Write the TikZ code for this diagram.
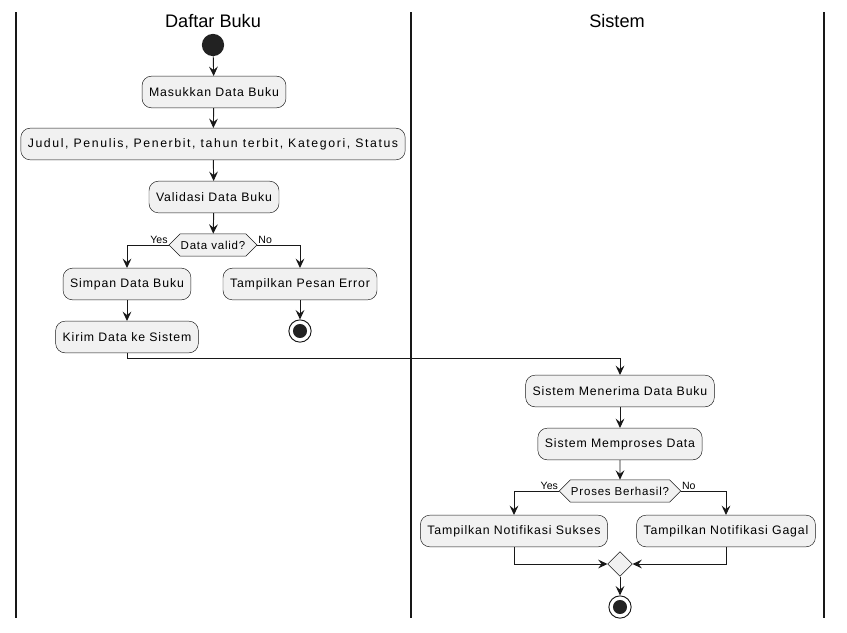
\documentclass[tikz,border=0pt]{standalone}
\usepackage{fontspec}
\setmainfont{Liberation Sans}
\newfontfamily\boxfont[LetterSpace=7]{Liberation Sans}
\newfontfamily\widefont[LetterSpace=13]{Liberation Sans}
\usepackage{xcolor}
\usetikzlibrary{
    arrows.meta,
    shapes.geometric,
    shapes.symbols
}
\definecolor{line}{HTML}{181818}
\definecolor{actfill}{HTML}{F1F1F1}
\definecolor{dotfill}{HTML}{222222}

\begin{document}
\begin{tikzpicture}[x=0.03cm, y=-0.03cm,
    act/.style={draw=line, fill=actfill, rounded corners=8pt, line width=0.4pt,
        minimum height=27pt, inner xsep=6pt, font=\boxfont\fontsize{10.5}{12}\selectfont},
    choice/.style={draw=line, fill=actfill, line width=0.4pt, signal, signal to=west and east,
        minimum height=19pt, inner xsep=0.5pt, inner ysep=0pt, font=\boxfont\fontsize{9.8}{12}\selectfont},
    merge/.style={draw=line, fill=actfill, line width=0.4pt, diamond, minimum size=21pt, inner sep=0pt},
    start/.style={circle, fill=dotfill, minimum size=19pt, inner sep=0pt},
    stop/.style={circle, draw=line, line width=0.8pt, minimum size=19pt, inner sep=0pt,
        path picture={\fill[dotfill] (path picture bounding box.center) circle (6pt);}},
    flow/.style={draw=line, line width=0.8pt, -{Stealth[length=8pt, width=7.5pt, inset=3pt]}},
    lane/.style={draw=line, line width=1.5pt},
    title/.style={font=\fontsize{15.5}{18}\selectfont},
    branch/.style={font=\fontsize{9}{10}\selectfont, inner sep=0.5pt}
]
    \useasboundingbox (0,0) rectangle (847,632);
    % swimlanes
    \draw[lane] (16,12) -- (16,618);
    \draw[lane] (411,12) -- (411,618);
    \draw[lane] (824,12) -- (824,618);
    \node[title] (lane1) at (213,21) {Daftar Buku};
    \node[title] (lane2) at (617,21) {Sistem};

    % Daftar Buku
    \node[start] (start) at (213,45) {};
    \node[act] (masuk) at (214,92) {Masukkan Data Buku};
    \node[act, font=\widefont\fontsize{10.5}{12}\selectfont] (judul) at (213,144) {Judul, Penulis, Penerbit, tahun terbit, Kategori, Status};
    \node[act] (valid) at (214,197) {Validasi Data Buku};
    \node[choice] (cek) at (213,245) {Data valid?};
    \node[act] (simpan) at (127,284) {Simpan Data Buku};
    \node[act] (error) at (300,284) {Tampilkan Pesan Error};
    \node[act] (kirim) at (127,337) {Kirim Data ke Sistem};
    \node[stop] (stop1) at (300,331) {};

    % Sistem
    \node[act] (terima) at (620,391) {Sistem Menerima Data Buku};
    \node[act] (proses) at (620,444) {Sistem Memproses Data};
    \node[choice] (hasil) at (620,491) {Proses Berhasil?};
    \node[act] (sukses) at (514,531) {Tampilkan Notifikasi Sukses};
    \node[act] (gagal) at (726,531) {Tampilkan Notifikasi Gagal};
    \node[merge] (gabung) at (620,564) {};
    \node[stop] (stop2) at (620,607) {};

    % alur
    \draw[flow] (start) -- (masuk);
    \draw[flow] (masuk) -- (judul);
    \draw[flow] (judul) -- (valid);
    \draw[flow] (valid) -- (cek);
    \draw[flow] (cek.west) -| node[branch, pos=0, anchor=south east] {Yes} (simpan);
    \draw[flow] (cek.east) -| node[branch, pos=0, anchor=south west] {No} (error);
    \draw[flow] (simpan) -- (kirim);
    \draw[flow] (error) -- (stop1);
    \draw[flow] (kirim.south) -- ++(0,5) -| (terima.north);
    \draw[flow] (terima) -- (proses);
    \draw[flow] (proses) -- (hasil);
    \draw[flow] (hasil.west) -| node[branch, pos=0, anchor=south east] {Yes} (sukses);
    \draw[flow] (hasil.east) -| node[branch, pos=0, anchor=south west] {No} (gagal);
    \draw[flow] (sukses.south) |- (gabung.west);
    \draw[flow] (gagal.south) |- (gabung.east);
    \draw[flow] (gabung) -- (stop2);
\end{tikzpicture}
\end{document}
